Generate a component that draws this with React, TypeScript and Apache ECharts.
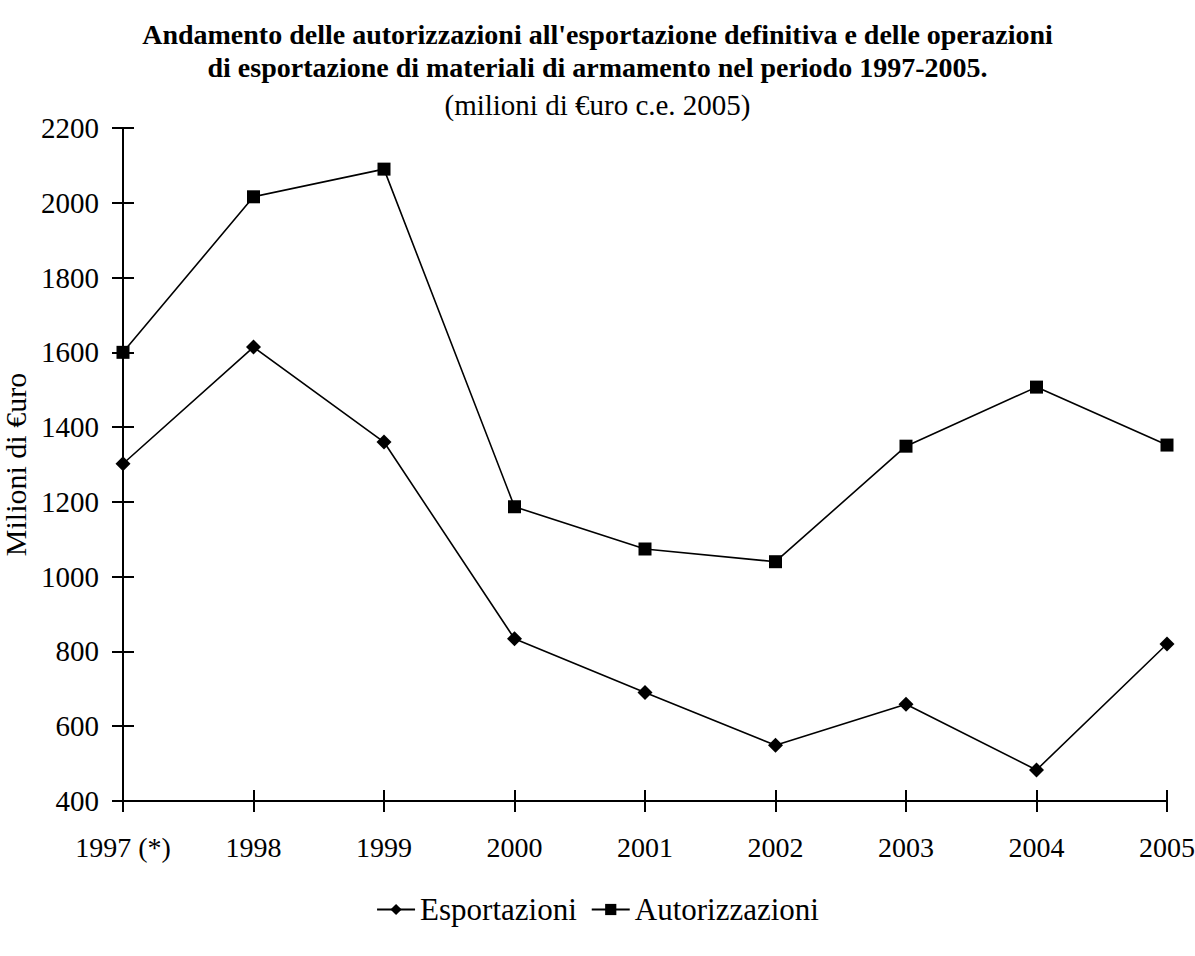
import React, { useEffect, useRef } from "react";
import * as echarts from "echarts";

const categories = ["1997 (*)", "1998", "1999", "2000", "2001", "2002", "2003", "2004", "2005"];
const esportazioni = [1302, 1614, 1360, 834, 690, 549, 659, 483, 820];
const autorizzazioni = [1600, 2016, 2090, 1187, 1074, 1040, 1349, 1507, 1352];
const yMin = 400;
const yMax = 2200;
const yStep = 200;

const FONT = "'Liberation Serif', 'DejaVu Serif', serif";

export default function App() {
  const ref = useRef<HTMLDivElement>(null);
  useEffect(() => {
    if (!ref.current) return;
    const chart = echarts.init(ref.current, undefined, { renderer: "svg" });
    const axisLine = { show: true, lineStyle: { color: "#000", width: 2 } };
    chart.setOption({
      animation: false,
      backgroundColor: "#fff",
      title: [
        {
          text: "Andamento delle autorizzazioni all'esportazione definitiva e delle operazioni\ndi esportazione di materiali di armamento nel periodo 1997-2005.",
          left: "center",
          top: 13,
          textStyle: { fontFamily: FONT, fontSize: 28, fontWeight: "bold", color: "#000", lineHeight: 33 },
        },
        {
          text: "(milioni di €uro c.e. 2005)",
          left: "center",
          top: 85,
          textStyle: { fontFamily: FONT, fontSize: 29, fontWeight: "normal", color: "#000" },
        },
      ],
      legend: {
        bottom: 26,
        left: "center",
        itemWidth: 38,
        itemHeight: 14,
        itemGap: 14,
        textStyle: { fontFamily: FONT, fontSize: 31, color: "#000" },
        data: ["Esportazioni", "Autorizzazioni"],
      },
      grid: { left: 123, right: 28, top: 128, bottom: 155, containLabel: false, outerBoundsMode: "none" },
      xAxis: [
        {
          type: "category",
          data: categories,
          boundaryGap: false,
          axisLine,
          axisTick: { show: true, length: 11, alignWithLabel: true, lineStyle: { color: "#000", width: 2 } },
          axisLabel: { fontFamily: FONT, fontSize: 28, color: "#000", margin: 32 },
          splitLine: { show: false },
        },
        {
          type: "category",
          data: categories,
          boundaryGap: false,
          position: "bottom",
          axisLine: { show: false },
          axisTick: { show: true, inside: true, length: 11, lineStyle: { color: "#000", width: 2 } },
          axisLabel: { show: false },
          splitLine: { show: false },
        },
      ],
      yAxis: [
        {
          type: "value",
          min: yMin,
          max: yMax,
          interval: yStep,
          name: "Milioni di €uro",
          nameLocation: "middle",
          nameGap: 84,
          nameTextStyle: { fontFamily: FONT, fontSize: 30, color: "#000" },
          axisLine,
          axisTick: { show: true, length: 11, lineStyle: { color: "#000", width: 2 } },
          axisLabel: { fontFamily: FONT, fontSize: 29, color: "#000", margin: 24, formatter: (v: number) => String(v) },
          splitLine: { show: false },
        },
        {
          type: "value",
          min: yMin,
          max: yMax,
          interval: yStep,
          position: "left",
          axisLine: { show: false },
          axisTick: { show: true, inside: true, length: 11, lineStyle: { color: "#000", width: 2 } },
          axisLabel: { show: false },
          splitLine: { show: false },
        },
      ],
      series: [
        {
          name: "Esportazioni",
          type: "line",
          data: esportazioni,
          symbol: "diamond",
          symbolSize: 15,
          itemStyle: { color: "#000" },
          lineStyle: { color: "#000", width: 1.6 },
        },
        {
          name: "Autorizzazioni",
          type: "line",
          data: autorizzazioni,
          symbol: "rect",
          symbolSize: 13,
          itemStyle: { color: "#000" },
          lineStyle: { color: "#000", width: 1.6 },
        },
      ],
    });
    return () => chart.dispose();
  }, []);
  return <div ref={ref} style={{ width: 1195, height: 956, position: "absolute", left: 0, top: 0 }} />;
}
